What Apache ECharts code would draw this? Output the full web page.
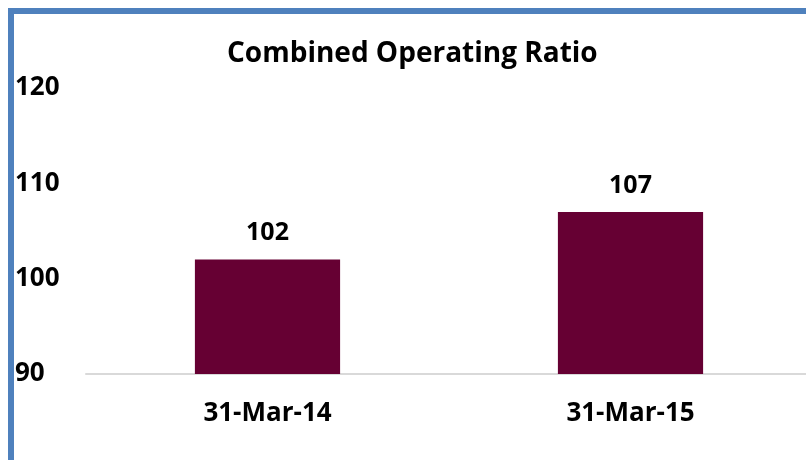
<!DOCTYPE html>
<html>
<head>
<meta charset="utf-8">
<script src="https://cdn.jsdelivr.net/npm/echarts@6/dist/echarts.min.js"></script>
<style>
  html, body { margin: 0; padding: 0; background: #fff; }
  #chart { width: 806px; height: 460px; }
</style>
</head>
<body>
<div id="chart"></div>
<script>
var categories = ['31-Mar-14', '31-Mar-15']
var ratioValues = [102, 107]
var yTicks = { min: 90, max: 120, interval: 10 }

var chart = echarts.init(document.getElementById('chart'))
var font = 'Open Sans'

chart.setOption({
  backgroundColor: '#fff',
  animation: false,
  title: {
    text: 'Combined Operating Ratio',
    left: 222,
    top: 35,
    textStyle: { fontFamily: font, fontSize: 28, fontWeight: 'bold', color: '#000' }
  },
  graphic: [
    { type: 'rect', shape: { x: 8, y: 8, width: 798, height: 6 }, style: { fill: '#4f81bd' } },
    { type: 'rect', shape: { x: 8, y: 8, width: 6, height: 452 }, style: { fill: '#4f81bd' } }
  ],
  grid: { left: 86, right: -6, top: 88, bottom: 86, outerBoundsMode: 'none' },
  xAxis: {
    type: 'category',
    data: categories,
    axisTick: { show: false },
    axisLine: { lineStyle: { color: '#d9d9d9', width: 2 } },
    axisLabel: {
      margin: 27,
      fontFamily: font, fontSize: 26, fontWeight: 'bold', color: '#000'
    }
  },
  yAxis: {
    type: 'value',
    min: yTicks.min,
    max: yTicks.max,
    interval: yTicks.interval,
    splitLine: { show: false },
    axisLine: { show: false },
    axisTick: { show: false },
    axisLabel: {
      align: 'left',
      margin: 71,
      padding: [3, 0, 0, 0],
      fontFamily: font, fontSize: 26, fontWeight: 'bold', color: '#000'
    }
  },
  series: [{
    type: 'bar',
    data: ratioValues,
    barWidth: '40%',
    itemStyle: { color: '#660033' },
    label: {
      show: true,
      position: 'top',
      distance: 14,
      fontFamily: font, fontSize: 25, fontWeight: 'bold', color: '#000'
    }
  }]
})
</script>
</body>
</html>
